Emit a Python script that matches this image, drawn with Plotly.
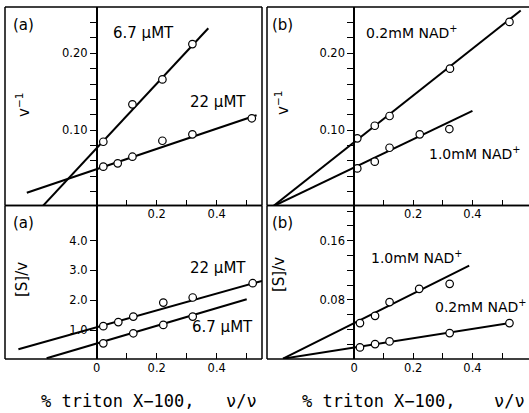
import plotly.graph_objects as go

# ---------------- data ----------------
# Panel (a) top: 1/v vs % triton
a_top_67_x = [0.022, 0.119, 0.219, 0.319]
a_top_67_y = [0.0847, 0.1335, 0.166, 0.212]
a_top_22_x = [0.022, 0.070, 0.119, 0.219, 0.319, 0.517]
a_top_22_y = [0.0522, 0.0566, 0.0652, 0.086, 0.0944, 0.1153]
# Panel (b) top
b_top_02_x = [0.011, 0.070, 0.120, 0.324, 0.525]
b_top_02_y = [0.0892, 0.1056, 0.1183, 0.180, 0.241]
b_top_10_x = [0.011, 0.070, 0.120, 0.222, 0.322]
b_top_10_y = [0.050, 0.0587, 0.0769, 0.0944, 0.1013]
# Panel (a) bottom: [S]/v
a_bot_22_x = [0.022, 0.072, 0.122, 0.222, 0.320, 0.520]
a_bot_22_y = [1.13, 1.265, 1.45, 1.92, 2.09, 2.57]
a_bot_67_x = [0.022, 0.122, 0.222, 0.320]
a_bot_67_y = [0.553, 0.89, 1.17, 1.45]
# Panel (b) bottom
b_bot_10_x = [0.020, 0.071, 0.120, 0.220, 0.323]
b_bot_10_y = [0.0486, 0.0584, 0.0769, 0.0948, 0.1016]
b_bot_02_x = [0.020, 0.071, 0.120, 0.323, 0.525]
b_bot_02_y = [0.0157, 0.0202, 0.0238, 0.035, 0.0486]

# fitted lines: (slope, intercept, x_start, x_end)
fit_a_top_67 = (0.42, 0.0764, -0.182, 0.372)
fit_a_top_22 = (0.132, 0.049, -0.233, 0.533)
fit_b_top_02 = (0.305, 0.084, -0.276, 0.563)
fit_b_top_10 = (0.1846, 0.051, -0.276, 0.400)
fit_a_bot_22 = (2.83, 1.09, -0.261, 0.551)
fit_a_bot_67 = (2.97, 0.546, -0.167, 0.500)
fit_b_bot_10 = (0.20, 0.0485, -0.240, 0.389)
fit_b_bot_02 = (0.063, 0.0155, -0.240, 0.535)

x_major_top = [0.2, 0.4]
x_label_top = ["0.2", "0.4"]
x_major_bot = [0, 0.2, 0.4]
x_label_bot = ["0", "0.2", "0.4"]
x_minor = [0.1, 0.3, 0.5]
y_major_top = [0.10, 0.20]
y_label_top = ["0.10", "0.20"]
y_minor_top = [0.02, 0.04, 0.06, 0.08, 0.12, 0.14, 0.16, 0.18, 0.22, 0.24]
y_major_a_bot = [1, 2, 3, 4]
y_label_a_bot = ["1.0", "2.0", "3.0", "4.0"]
y_minor_a_bot = []
y_major_b_bot = [0.08, 0.16]
y_label_b_bot = ["0.08", "0.16"]
y_minor_b_bot = [0.02, 0.04, 0.06, 0.10, 0.12, 0.14, 0.18, 0.20]

# ---------------- layout geometry ----------------
W, H = 529, 413
def px(x):
    return x / W
def py(y):
    return 1 - y / H

dom_x_left = [px(5), px(262)]
dom_x_right = [px(267), 1.0]
dom_y_top = [py(205.5), py(7)]
dom_y_bot = [py(359), py(205.5)]

xr_left = [-0.3057, 0.551]
xr_right = [-0.294, 0.591]
yr_top = [0.0016, 0.2604]
yr_a_bot = [0.027, 5.178]
yr_b_bot = [0.0, 0.2075]

FONT = "DejaVu Sans"
tickfont = dict(family=FONT, size=11.5, color="black")

fig = go.Figure()

panels = [
    ("x", "y", dom_x_left, dom_y_top, xr_left, yr_top, x_major_top, x_label_top,
     y_major_top, y_label_top, y_minor_top,
     [(a_top_67_x, a_top_67_y), (a_top_22_x, a_top_22_y)], [fit_a_top_67, fit_a_top_22]),
    ("x2", "y2", dom_x_right, dom_y_top, xr_right, yr_top, x_major_top, x_label_top,
     y_major_top, y_label_top, y_minor_top,
     [(b_top_02_x, b_top_02_y), (b_top_10_x, b_top_10_y)], [fit_b_top_02, fit_b_top_10]),
    ("x3", "y3", dom_x_left, dom_y_bot, xr_left, yr_a_bot, x_major_bot, x_label_bot,
     y_major_a_bot, y_label_a_bot, y_minor_a_bot,
     [(a_bot_22_x, a_bot_22_y), (a_bot_67_x, a_bot_67_y)], [fit_a_bot_22, fit_a_bot_67]),
    ("x4", "y4", dom_x_right, dom_y_bot, xr_right, yr_b_bot, x_major_bot, x_label_bot,
     y_major_b_bot, y_label_b_bot, y_minor_b_bot,
     [(b_bot_10_x, b_bot_10_y), (b_bot_02_x, b_bot_02_y)], [fit_b_bot_10, fit_b_bot_02]),
]

layout = dict(
    width=W, height=H, margin=dict(l=0, r=0, t=0, b=0),
    paper_bgcolor="white", plot_bgcolor="white", showlegend=False,
)
shapes = []
for i, (xa, ya, xd, yd, xr, yr, xt, xtt, yt, ytt, ymn, series, fits) in enumerate(panels):
    for (slope, icpt, x0, x1) in fits:
        fig.add_trace(go.Scatter(
            x=[x0, x1], y=[icpt + slope * x0, icpt + slope * x1],
            mode="lines", line=dict(color="black", width=2),
            xaxis=xa, yaxis=ya, hoverinfo="skip"))
    for sx, sy in series:
        fig.add_trace(go.Scatter(
            x=sx, y=sy, mode="markers",
            marker=dict(symbol="circle", size=7.5, color="white",
                        line=dict(color="black", width=1.2)),
            xaxis=xa, yaxis=ya, cliponaxis=False))
    suffix = "" if i == 0 else str(i + 1)
    ypos = xd[0] + (0 - xr[0]) / (xr[1] - xr[0]) * (xd[1] - xd[0])
    layout["xaxis" + suffix] = dict(
        domain=xd, range=xr, anchor=ya, showgrid=False, zeroline=False,
        showline=False, ticks="inside", ticklen=6, tickwidth=1.2, tickcolor="black",
        tickmode="array", tickvals=xt, ticktext=xtt, tickfont=tickfont, fixedrange=True,
        minor=dict(tickmode="array", tickvals=x_minor, ticks="inside", ticklen=6,
                   tickwidth=1.2, tickcolor="black", showgrid=False))
    ydict = dict(
        domain=yd, range=yr, anchor="free", position=ypos, showgrid=False,
        zeroline=False, showline=True, linecolor="black", linewidth=1.5,
        ticks="outside", ticklen=6, tickwidth=1.2, tickcolor="black",
        tickmode="array", tickvals=yt, ticktext=ytt, tickfont=tickfont, fixedrange=True)
    if ymn:
        ydict["minor"] = dict(tickmode="array", tickvals=ymn, ticks="outside", ticklen=6,
                              tickwidth=1.2, tickcolor="black", showgrid=False)
    layout["yaxis" + suffix] = ydict
    xref = ("x" if i == 0 else "x" + str(i + 1)) + " domain"
    yref = ("y" if i == 0 else "y" + str(i + 1)) + " domain"
    lw = dict(color="black", width=1.5)
    shapes.append(dict(type="line", xref=xref, yref=yref, x0=0, x1=0, y0=0, y1=1, line=lw))
    shapes.append(dict(type="line", xref=xref, yref=yref, x0=0, x1=1, y0=0, y1=0, line=lw))
    shapes.append(dict(type="line", xref=xref, yref=yref, x0=0, x1=1, y0=1, y1=1, line=lw))
    if xd[1] < 0.99:
        shapes.append(dict(type="line", xref=xref, yref=yref, x0=1, x1=1, y0=0, y1=1, line=lw))

layout["shapes"] = shapes

def ann(text, x, y, size=15, angle=0, family=FONT, anchor="center"):
    return dict(text=text, x=px(x), y=py(y), xref="paper", yref="paper",
                showarrow=False, textangle=angle, xanchor=anchor, yanchor="middle",
                font=dict(family=family, size=size, color="black"))

annotations = [
    ann("(a)", 23, 25), ann("6.7 μMT", 143, 33), ann("22 μMT", 218, 102),
    ann("(b)", 282, 25),
    ann("0.2mM NAD<sup>+</sup>", 364, 32, size=14, anchor="left"),
    ann("1.0mM NAD<sup>+</sup>", 427, 153, size=14, anchor="left"),
    ann("(a)", 23, 223), ann("22 μMT", 218, 268), ann("6.7 μMT", 223, 327),
    ann("(b)", 282, 223),
    ann("1.0mM NAD<sup>+</sup>", 369, 257, size=14, anchor="left"),
    ann("0.2mM NAD<sup>+</sup>", 528, 306, size=14, anchor="right"),
    ann("v<sup>−1</sup>", 23, 105, angle=-90), ann("v<sup>−1</sup>", 282, 103, angle=-90),
    ann("[S]/v", 22, 280, angle=-90), ann("[S]/v", 279, 275, angle=-90),
    ann("% triton X−100,", 118, 401, size=17, family="DejaVu Sans Mono"),
    ann("ν/ν", 241, 401, size=17, family="DejaVu Sans Mono"),
    ann("% triton X−100,", 379, 401, size=17, family="DejaVu Sans Mono"),
    ann("ν/ν", 509, 401, size=17, family="DejaVu Sans Mono"),
]
layout["annotations"] = annotations

fig.update_layout(**layout)
fig.write_html("out.html", config={"displayModeBar": False},
               post_script="document.body.style.margin='0';document.body.style.padding='0';")
